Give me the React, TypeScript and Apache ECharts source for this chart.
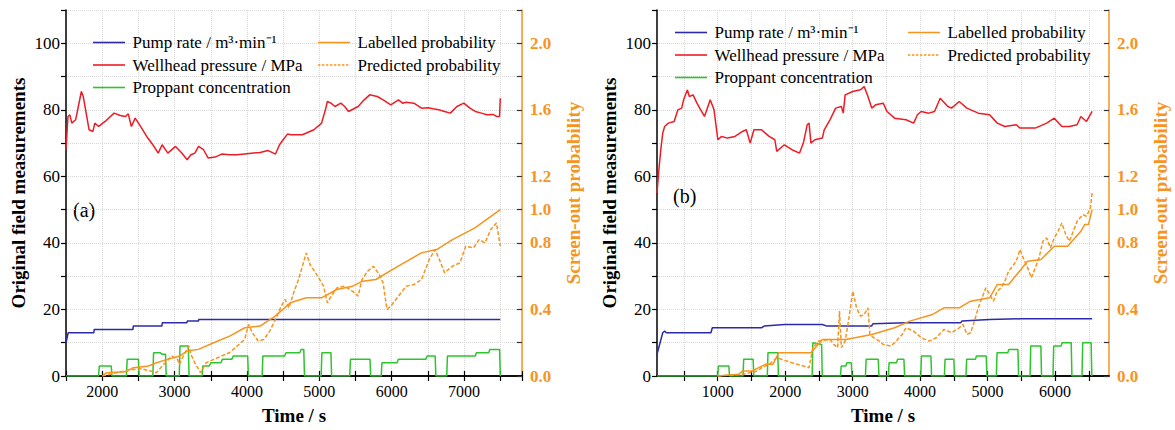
import React, { useEffect, useRef } from "react";
import * as echarts from "echarts";

// ---------------- DATA (panel a) ----------------
const aPump: number[][] = [[1500,10],[1530,13],[1885,13],[1890,14],[2425,14],[2430,15],[2825,15],[2830,16],[3170,16],[3175,16.5],[3330,16.5],[3335,17],[7500,17]];
const aPressure: number[][] = [[1500,68],[1527,78],[1553,78.5],[1580,76],[1633,77],[1712,85.5],[1739,84],[1819,74],[1872,73.5],[1898,76],[1951,75],[2040,76.5],[2164,79],[2250,78.3],[2323,78],[2360,78.8],[2403,75],[2456,77.5],[2530,75],[2615,72],[2700,69.5],[2774,67],[2828,69.5],[2907,67],[3013,69],[3100,67],[3173,65],[3226,66.5],[3280,67],[3332,69],[3400,68],[3465,65.5],[3560,65.8],[3651,66.7],[3760,66.5],[3863,66.5],[4000,66.8],[4182,67.2],[4288,67.8],[4394,66.7],[4450,69.5],[4500,71],[4560,72.7],[4606,72.5],[4766,72.5],[4925,74],[5031,76],[5084,80],[5111,82.5],[5160,82],[5217,81],[5297,82],[5350,81],[5403,79.5],[5536,81],[5620,83],[5695,84.5],[5800,84],[5881,83],[5987,81.5],[6093,83],[6150,82],[6199,82.3],[6306,82],[6412,80.5],[6500,80.6],[6571,80.3],[6650,80],[6730,79.5],[6810,79],[6900,81],[6996,82],[7080,80.5],[7155,79.5],[7240,79],[7314,78.5],[7400,78.6],[7447,78],[7490,78],[7500,83.5]];
const aProppant: number[][] = [[1500,0],[1950,0],[1960,3],[2125,3],[2135,0],[2335,0],[2345,5],[2500,5],[2510,0],[2700,0],[2710,7],[2800,7],[2830,6.5],[2875,6.5],[2885,0],[3065,0],[3075,9],[3190,9],[3200,0],[3380,0],[3390,3],[3480,3],[3500,4],[3640,4],[3660,5],[3790,5],[3810,6],[4010,6],[4020,0],[4210,0],[4220,6],[4520,6],[4540,7],[4730,7],[4750,8],[4785,8],[4795,0],[5025,0],[5035,7],[5160,7],[5170,0],[5420,0],[5430,5],[5700,5],[5710,0],[5855,0],[5865,4],[6075,4],[6090,5],[6470,5],[6490,6],[6600,6],[6610,0],[6760,0],[6770,6],[7155,6],[7170,7],[7340,7],[7355,8],[7490,8],[7500,0]];
const aLabelled: number[][] = [[2000,0],[2060,0.02],[2320,0.025],[2430,0.05],[2640,0.06],[2750,0.08],[2900,0.1],[3070,0.12],[3170,0.15],[3330,0.16],[3540,0.2],[3760,0.24],[3970,0.29],[4180,0.3],[4390,0.36],[4600,0.44],[4820,0.47],[5030,0.47],[5240,0.52],[5460,0.54],[5600,0.57],[5780,0.58],[6090,0.66],[6410,0.74],[6620,0.76],[6840,0.82],[7150,0.89],[7500,1.0]];
const aPredicted: number[][] = [[2000,0],[2164,0.016],[2376,0.036],[2535,0.044],[2668,0.03],[2748,0.02],[2828,0.06],[2960,0.12],[3040,0.1],[3066,0.07],[3120,0.12],[3173,0.16],[3199,0.18],[3226,0.13],[3279,0.08],[3332,0.04],[3359,0.02],[3438,0.08],[3544,0.1],[3757,0.14],[3969,0.22],[4022,0.31],[4075,0.26],[4155,0.21],[4235,0.22],[4314,0.27],[4394,0.34],[4474,0.42],[4527,0.46],[4580,0.41],[4660,0.52],[4713,0.58],[4766,0.66],[4819,0.74],[4872,0.67],[4978,0.6],[5058,0.54],[5111,0.44],[5164,0.48],[5244,0.53],[5350,0.54],[5456,0.51],[5536,0.48],[5589,0.58],[5668,0.63],[5748,0.66],[5828,0.61],[5881,0.56],[5934,0.4],[5987,0.42],[6093,0.48],[6199,0.54],[6306,0.55],[6412,0.58],[6518,0.7],[6598,0.76],[6650,0.71],[6730,0.62],[6837,0.66],[6943,0.68],[7022,0.78],[7128,0.77],[7208,0.82],[7288,0.8],[7368,0.88],[7447,0.92],[7500,0.78]];

// ---------------- DATA (panel b) ----------------
const bPump: number[][] = [[100,6.5],[185,13],[213,13.5],[240,13],[900,13],[920,14.5],[1650,14.5],[1690,15],[1990,15.5],[2550,15.5],[2620,15],[3280,15],[3300,15.7],[3790,16],[4600,16],[4620,16.5],[5030,17],[5500,17.2],[6550,17.2]];
const bPressure: number[][] = [[100,55],[128,62],[156,68],[185,73],[213,75],[269,76],[354,76.5],[410,80],[466,80.5],[494,83],[551,86],[579,84],[635,84.5],[692,82],[748,80],[804,78],[889,83],[945,80],[1002,71],[1058,72],[1142,71.5],[1255,72],[1368,73.5],[1424,74],[1481,70],[1537,74],[1650,74],[1762,72],[1847,71],[1875,67.5],[1988,69.5],[2100,68],[2213,67],[2269,70],[2326,75.5],[2354,76],[2382,70],[2439,71],[2551,71.5],[2579,74],[2664,77],[2748,80.5],[2833,81],[2861,79],[2889,84.5],[3002,85.5],[3115,86],[3171,87],[3227,84],[3284,80.5],[3340,81.5],[3453,82],[3509,79.5],[3622,77.5],[3791,77],[3904,76],[3960,78.5],[4016,79.5],[4129,79],[4214,79.5],[4298,83.5],[4411,81],[4467,80.5],[4580,82.5],[4693,80.5],[4862,79],[5031,78.5],[5143,76],[5256,75],[5425,75.5],[5481,74.5],[5707,74.5],[5876,76],[5989,77.5],[6101,75],[6214,75],[6327,75.5],[6383,78],[6467,76.5],[6550,79.5]];
const bProppant: number[][] = [[100,0],[1000,0],[1010,3],[1165,3],[1175,0],[1375,0],[1385,5],[1525,5],[1535,0],[1735,0],[1745,7],[1890,7],[1900,0],[2400,0],[2410,10],[2540,9.5],[2550,0],[2820,0],[2830,3],[2900,3],[2915,4],[2980,4],[2990,0],[3190,0],[3200,5],[3380,5],[3390,0],[3530,0],[3540,4],[3650,4],[3665,5],[3760,5],[3770,0],[4010,0],[4020,6],[4160,6],[4170,0],[4360,0],[4370,5],[4500,5],[4510,0],[4680,0],[4690,5],[4820,5],[4835,6],[4980,6],[4990,0],[5130,0],[5140,7],[5300,7],[5315,8],[5450,8],[5460,0],[5630,0],[5640,9],[5790,9],[5800,0],[5970,0],[5980,9],[6090,9],[6105,10],[6240,10],[6250,0],[6400,0],[6410,10],[6535,10],[6545,0]];
const bLabelled: number[][] = [[1000,0],[1311,0.01],[1368,0.03],[1509,0.03],[1706,0.07],[1819,0.07],[1903,0.14],[2382,0.14],[2551,0.22],[2900,0.22],[3284,0.25],[3622,0.29],[3847,0.33],[4185,0.37],[4354,0.41],[4580,0.41],[4749,0.45],[5031,0.47],[5143,0.55],[5312,0.55],[5594,0.69],[5791,0.7],[5989,0.78],[6186,0.78],[6383,0.87],[6439,0.91],[6495,0.91],[6550,1.0]];
const bPredicted: number[][] = [[1000,0],[1368,0.01],[1593,0.03],[1650,0.05],[1762,0.07],[1875,0.11],[1988,0.094],[2100,0.08],[2269,0.06],[2354,0.05],[2382,0.11],[2410,0.17],[2495,0.21],[2664,0.22],[2720,0.19],[2777,0.17],[2805,0.39],[2833,0.17],[2889,0.21],[2946,0.35],[3002,0.51],[3058,0.41],[3115,0.36],[3171,0.37],[3227,0.41],[3256,0.25],[3312,0.23],[3396,0.21],[3453,0.19],[3565,0.18],[3622,0.2],[3735,0.25],[3791,0.29],[3904,0.27],[4016,0.23],[4129,0.21],[4242,0.23],[4354,0.28],[4467,0.26],[4580,0.29],[4636,0.31],[4693,0.25],[4749,0.26],[4805,0.33],[4862,0.41],[4918,0.47],[4974,0.53],[5031,0.49],[5087,0.45],[5143,0.51],[5200,0.53],[5256,0.57],[5312,0.63],[5425,0.69],[5481,0.76],[5538,0.7],[5594,0.65],[5650,0.59],[5707,0.65],[5763,0.71],[5819,0.81],[5876,0.83],[5932,0.77],[5989,0.83],[6045,0.87],[6101,0.92],[6158,0.85],[6214,0.81],[6270,0.87],[6327,0.93],[6411,0.97],[6467,0.96],[6524,1.01],[6550,1.1]];

// ---------------- AXES / LABELS ----------------
const aTimeRange = [1500, 7800];
const bTimeRange = [100, 6800];
const bTimeTicks = [500, 1000, 1500, 2000, 2500, 3000, 3500, 4000, 4500, 5000, 5500, 6000, 6500];
const bTimeLabels = [1000, 2000, 3000, 4000, 5000, 6000];
const probLabels = ["0.0", "0.4", "0.8", "1.0", "1.2", "1.6", "2.0"];
const seriesNames = ["Pump rate / m\u00B3\u00B7min\u207B\u00B9", "Wellhead pressure / MPa", "Proppant concentration", "Labelled probability", "Predicted probability"];
const panelTags = ["(a)", "(b)"];

const FONT = "Liberation Serif";
const ORANGE = "#F7941D";
const BLUE = "#2B2BA8";
const RED = "#EE1C25";
const GREEN = "#2DC42D";

// legend icon shapes (solid bar, dashed bar)
const SOLID_ICON = "path://M0,0H40V2H0Z";
const DASH_ICON = "path://M0,0H3V2H0Z M5,0H8V2H5Z M10,0H13V2H10Z M15,0H18V2H15Z M20,0H23V2H20Z M25,0H28V2H25Z M30,0H33V2H30Z M35,0H38V2H35Z M40,0H40.01V2H40Z";

export default function App() {
  const ref = useRef<HTMLDivElement>(null);
  useEffect(() => {
    if (!ref.current) return;
    const chart = echarts.init(ref.current, undefined, { renderer: "svg" });

    const grids = [
      { left: 66, top: 10, width: 456, height: 367 },
      { left: 657, top: 10, width: 452, height: 367 },
    ];

    const splitLine = { show: true, lineStyle: { color: "#d8d8d8", type: "dotted" as const, width: 1 } };

    const bottomX = (gi: number) => {
      const isB = gi === 1;
      const range = isB ? bTimeRange : aTimeRange;
      const base: any = {
        type: "value",
        gridIndex: gi,
        position: "bottom",
        min: range[0],
        max: range[1],
        axisLine: { lineStyle: { color: "#000", width: 1.5 } },
        axisTick: { inside: true, length: 5, lineStyle: { color: "#000", width: 1.2 } },
        axisLabel: {
          color: "#000",
          fontFamily: FONT,
          fontSize: 16,
          margin: 7,
          formatter: (v: number) => (v % 1000 === 0 ? String(v) : ""),
        },
        splitLine,
        name: "Time / s",
        nameLocation: "middle",
        nameGap: 30,
        nameTextStyle: { color: "#000", fontFamily: FONT, fontSize: 19, fontWeight: "bold" },
      };
      if (isB) {
        base.axisTick.customValues = bTimeTicks;
        base.axisLabel.customValues = bTimeLabels;
      } else {
        base.interval = 500;
      }
      return base;
    };
    const topX = (gi: number) => {
      const isB = gi === 1;
      const range = isB ? bTimeRange : aTimeRange;
      const base: any = {
        type: "value",
        gridIndex: gi,
        position: "top",
        min: range[0],
        max: range[1],
        axisLine: { lineStyle: { color: "#000", width: 1.5 } },
        axisTick: { inside: true, length: 5, lineStyle: { color: "#000", width: 1.2 } },
        axisLabel: { show: false },
        splitLine: { show: false },
      };
      if (isB) {
        base.axisTick.customValues = bTimeTicks;
        base.axisLabel.customValues = bTimeLabels;
      } else {
        base.interval = 500;
      }
      return base;
    };
    const leftY = (gi: number) => ({
      type: "value",
      gridIndex: gi,
      position: "left",
      min: 0,
      max: 110,
      interval: 10,
      axisLine: { show: true, lineStyle: { color: "#000", width: 1.5 } },
      axisTick: { show: true, inside: false, length: 5, lineStyle: { color: "#000", width: 1.2 } },
      axisLabel: {
        color: "#000",
        fontFamily: FONT,
        fontSize: 17,
        margin: 6,
        formatter: (v: number) => (v % 20 === 0 && v <= 100 ? String(v) : ""),
      },
      splitLine,
      name: "Original field measurements",
      nameLocation: "middle",
      nameGap: 38,
      nameRotate: 90,
      nameTextStyle: { color: "#000", fontFamily: FONT, fontSize: 19, fontWeight: "bold" },
    });
    const rightY = (gi: number) => ({
      type: "value",
      gridIndex: gi,
      position: "right",
      min: 0,
      max: 2.2,
      interval: 0.2,
      axisLine: { show: true, lineStyle: { color: ORANGE, width: 1.5 } },
      axisTick: { show: true, inside: true, length: 5, lineStyle: { color: "#333", width: 1.2 } },
      axisLabel: {
        color: ORANGE,
        fontFamily: FONT,
        fontSize: 17,
        fontWeight: "bold",
        margin: 8,
        formatter: (v: number) => {
          const s = v.toFixed(1);
          return probLabels.includes(s) ? s : "";
        },
      },
      splitLine: { show: false },
      name: "Screen-out probability",
      nameLocation: "middle",
      nameGap: 42,
      nameRotate: 90,
      nameTextStyle: { color: ORANGE, fontFamily: FONT, fontSize: 19, fontWeight: "bold" },
    });

    const mk = (name: string, data: number[][], xi: number, yi: number, color: string, dashed = false) => ({
      name,
      type: "line",
      xAxisIndex: xi,
      yAxisIndex: yi,
      data,
      showSymbol: false,
      symbol: "none",
      lineStyle: { color, width: 1.5, type: dashed ? [4, 2] : "solid" },
      itemStyle: { color },
      z: 3,
    });

    const legendText = { color: "#000", fontFamily: FONT, fontSize: 17 };
    const legendCommon = {
      orient: "vertical" as const,
      itemWidth: 37,
      itemHeight: 1.6,
      itemGap: 5.5,
      padding: 0,
      textStyle: legendText,
      selectedMode: false,
    };
    const item = (i: number) => ({ name: seriesNames[i], icon: i === 4 ? DASH_ICON : SOLID_ICON });

    const option: any = {
      animation: false,
      backgroundColor: "#fff",
      textStyle: { fontFamily: FONT },
      grid: grids,
      xAxis: [bottomX(0), topX(0), bottomX(1), topX(1)],
      yAxis: [leftY(0), rightY(0), leftY(1), rightY(1)],
      legend: [
        { ...legendCommon, left: 93, top: 34, data: [item(0), item(1), item(2)] },
        { ...legendCommon, left: 318, top: 34, data: [item(3), item(4)] },
        { ...legendCommon, left: 675, top: 24, data: [item(0), item(1), item(2)] },
        { ...legendCommon, left: 908, top: 24, data: [item(3), item(4)] },
      ],
      graphic: [
        { type: "text", left: 73, top: 200, style: { text: panelTags[0], fontFamily: FONT, fontSize: 20, fill: "#000" } },
        { type: "text", left: 673, top: 186, style: { text: panelTags[1], fontFamily: FONT, fontSize: 20, fill: "#000" } },
      ],
      series: [
        mk(seriesNames[0], aPump, 0, 0, BLUE),
        mk(seriesNames[1], aPressure, 0, 0, RED),
        mk(seriesNames[2], aProppant, 0, 0, GREEN),
        mk(seriesNames[3], aLabelled, 0, 1, ORANGE),
        mk(seriesNames[4], aPredicted, 0, 1, ORANGE, true),
        mk(seriesNames[0], bPump, 2, 2, BLUE),
        mk(seriesNames[1], bPressure, 2, 2, RED),
        mk(seriesNames[2], bProppant, 2, 2, GREEN),
        mk(seriesNames[3], bLabelled, 2, 3, ORANGE),
        mk(seriesNames[4], bPredicted, 2, 3, ORANGE, true),
      ],
    };
    chart.setOption(option);
    return () => chart.dispose();
  }, []);

  return <div ref={ref} style={{ position: "absolute", left: 0, top: 0, width: 1175, height: 430 }} />;
}
